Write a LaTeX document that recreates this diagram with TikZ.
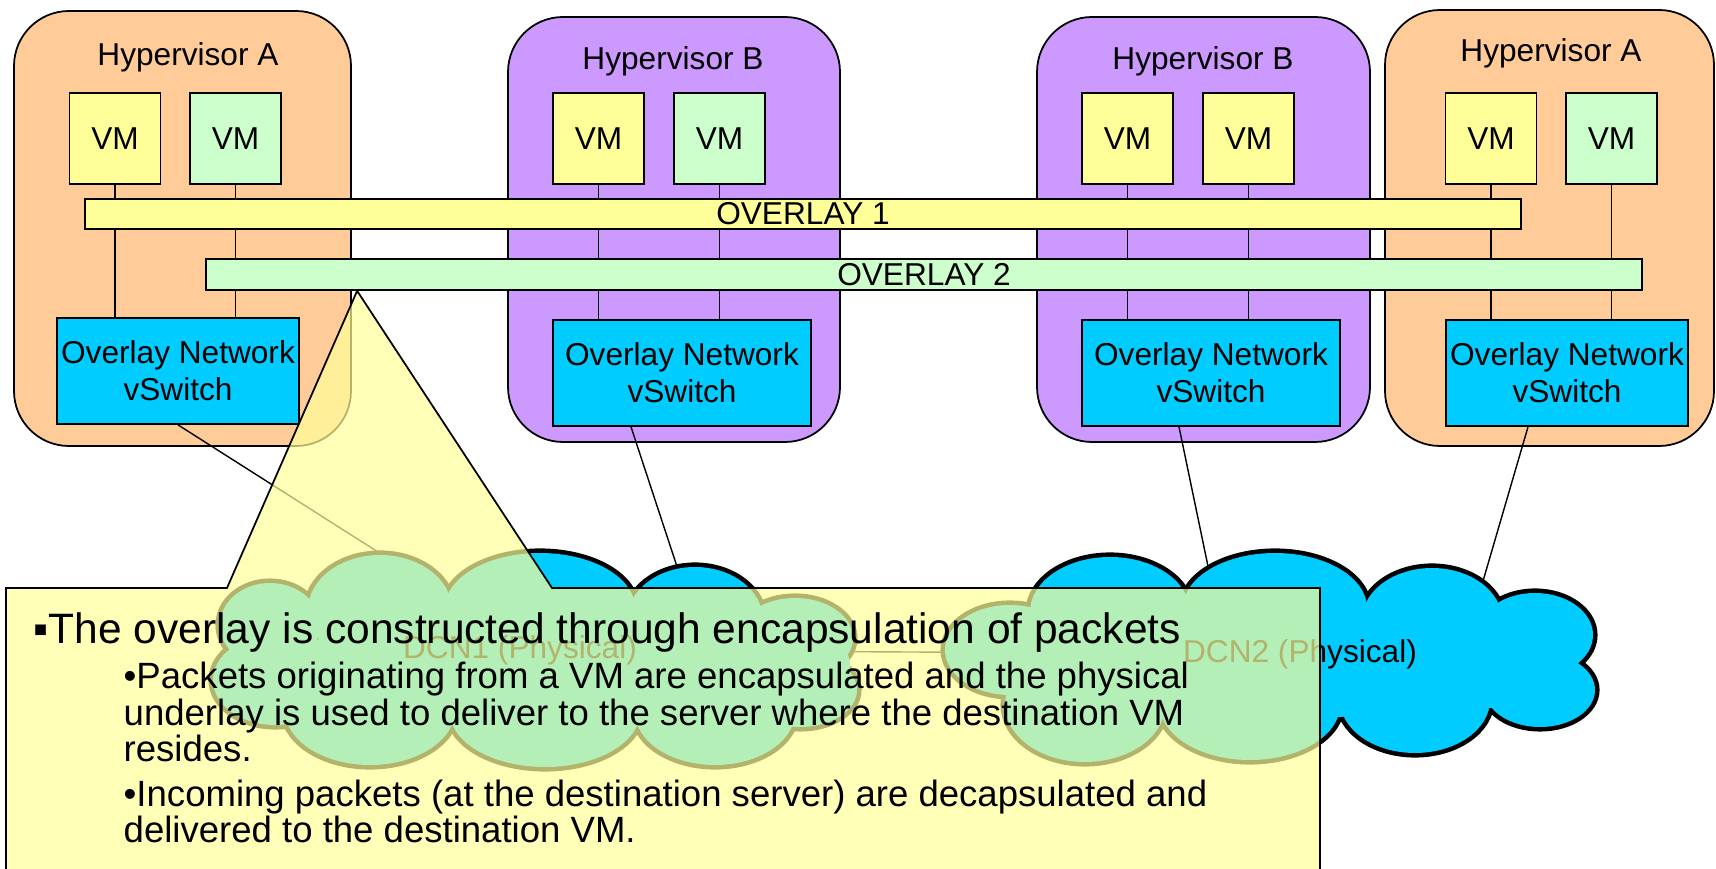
\documentclass[tikz,border=0pt]{standalone}
\usepackage{fontspec}
\setmainfont{Liberation Sans}
\usetikzlibrary{positioning, calc, backgrounds}
\definecolor{cHypA}{HTML}{FFCC99}
\definecolor{cHypB}{HTML}{CC99FF}
\definecolor{cVMy}{HTML}{FFFF99}
\definecolor{cVMg}{HTML}{CCFFCC}
\definecolor{cSwitch}{HTML}{00CCFF}
\definecolor{cNote}{HTML}{FFFF99}

\begin{document}
\begin{tikzpicture}[
  x=0.1mm, y=-0.1mm,
  font=\fontsize{9}{10.5}\selectfont,
  hyper/.style={rectangle, rounded corners=5.5mm, draw=black, line width=0.5pt},
  vm/.style={rectangle, draw=black, line width=0.5pt, inner sep=0pt,
             minimum width=9.1mm, minimum height=9.1mm},
  bar/.style={rectangle, draw=black, line width=0.5pt, inner sep=0pt,
              minimum width=143.6mm, minimum height=3.05mm},
  vswitch/.style={rectangle, draw=black, line width=0.5pt, fill=cSwitch,
                  inner sep=0pt, minimum height=10.6mm, align=center},
  puffline/.style={draw=black, line width=2.6pt},
  pufffill/.style={fill=cSwitch},
  wire/.style={draw=black, line width=0.4pt},
  note/.style={inner sep=0pt, anchor=base west, align=left},
]
\useasboundingbox (0,0) rectangle (1716,869);

% ---- Hypervisors ----------------------------------------------------------
\node[hyper, fill=cHypA, minimum width=33.7mm, minimum height=43.5mm] (hvA1) at (182.5,228.5) {};
\node[hyper, fill=cHypB, minimum width=33.2mm, minimum height=42.5mm] (hvB2) at (674,229.5) {};
\node[hyper, fill=cHypB, minimum width=33.3mm, minimum height=42.5mm] (hvB3) at (1203.5,229.5) {};
\node[hyper, fill=cHypA, minimum width=32.9mm, minimum height=43.6mm] (hvA4) at (1549.5,228) {};

\node[anchor=base] (labA1) at (188,66) {Hypervisor A};
\node[anchor=base] (labB2) at (673,70) {Hypervisor B};
\node[anchor=base] (labB3) at (1203,70) {Hypervisor B};
\node[anchor=base] (labA4) at (1551,62) {Hypervisor A};

% ---- VMs and vSwitches ----------------------------------------------------
\foreach \nm/\x/\c in {A1a/115/cVMy, A1b/235.5/cVMg, B2a/598.5/cVMy, B2b/719.5/cVMg,
                       B3a/1127.5/cVMy, B3b/1248.5/cVMy, A4a/1491/cVMy, A4b/1611.5/cVMg} {
  \node[vm, fill=\c] (vm\nm) at (\x,138.5) {VM};
}

\node[vswitch, minimum width=24.2mm] (swA1) at (178,371) {Overlay Network\\vSwitch};
\node[vswitch, minimum width=25.8mm] (swB2) at (682,373) {Overlay Network\\vSwitch};
\node[vswitch, minimum width=25.8mm] (swB3) at (1211,373) {Overlay Network\\vSwitch};
\node[vswitch, minimum width=24.2mm] (swA4) at (1567,373) {Overlay Network\\vSwitch};

\foreach \v/\s in {A1a/A1, A1b/A1, B2a/B2, B2b/B2, B3a/B3, B3b/B3, A4a/A4, A4b/A4} {
  \draw[wire] (vm\v.south) -- (vm\v.south |- sw\s.north);
}

% ---- Overlays -------------------------------------------------------------
\node[bar, fill=cVMy] (ov1) at (803,214) {OVERLAY 1};
\node[bar, fill=cVMg, minimum height=3.1mm] (ov2) at (924,274.5) {OVERLAY 2};

% ---- Physical underlay ----------------------------------------------------
\coordinate (inA1) at (400,566);
\coordinate (inB2) at (688,600);
\coordinate (inB3) at (1215,600);
\coordinate (inA4) at (1476,605);
\draw[wire] (swA1.south) -- (inA1);
\draw[wire] ([xshift=-5.1mm]swB2.south) -- (inB2);
\draw[wire] ([xshift=-3.2mm]swB3.south) -- (inB3);
\draw[wire] ([xshift=-3.9mm]swA4.south) -- (inA4);

% clouds: union of puffs, outline first then fill
\def\dcnpuffs{
  534/660/230/60, 270/625/50/42, 380/610/72/55, 540/608/95/55, 695/620/68/53,
  795/638/58/40, 800/690/57/37, 715/712/80/53, 545/712/95/55, 370/710/85/55,
  275/680/62/45,
  1268/660/230/60, 1110/612/80/55, 1275/608/92/55, 1432/620/70/52,
  1535/635/58/42, 1540/690/55/37, 1415/700/75/53, 1250/705/90/55,
  1085/705/80/57, 1010/650/65/45}
\foreach \cx/\cy/\rx/\ry in \dcnpuffs {
  \path[puffline] (\cx,\cy) ellipse [x radius=\rx*0.1mm, y radius=\ry*0.1mm];
}
\foreach \cx/\cy/\rx/\ry in \dcnpuffs {
  \path[pufffill] (\cx,\cy) ellipse [x radius=\rx*0.1mm, y radius=\ry*0.1mm];
}
\foreach \cx/\cy/\rx/\ry in {1485/668/60/40, 800/665/50/35} {
  \path[pufffill] (\cx,\cy) ellipse [x radius=\rx*0.1mm, y radius=\ry*0.1mm];
}

\node (dcn1) at (520,650) {DCN1 (Physical)};
\node (dcn2) at (1300,654) {DCN2 (Physical)};
\begin{scope}[on background layer]
  \draw[wire] (dcn1) -- (dcn2);
\end{scope}

% ---- Callout --------------------------------------------------------------
\coordinate (tip) at ([xshift=15.2mm]ov2.south west);
\draw[line width=0.5pt, fill=cNote, fill opacity=0.7]
  (6,885) -- (6,588) -- (227,588) -- (tip) -- (552,588) -- (1320,588) -- (1320,885) -- cycle;

\node[note, font=\fontsize{12.1}{14}\selectfont] (pt1) at (33,644)
  {▪The overlay is constructed through encapsulation of packets};
\node[note, font=\fontsize{10.4}{10.4}\selectfont] (pt2) at (123,762)
  {•Packets originating from a VM are encapsulated and the physical\\
   underlay is used to deliver to the server where the destination VM\\
   resides.};
\node[note, font=\fontsize{10.4}{10.1}\selectfont] (pt3) at (123,842)
  {•Incoming packets (at the destination server) are decapsulated and\\
   delivered to the destination VM.};

\end{tikzpicture}
\end{document}
